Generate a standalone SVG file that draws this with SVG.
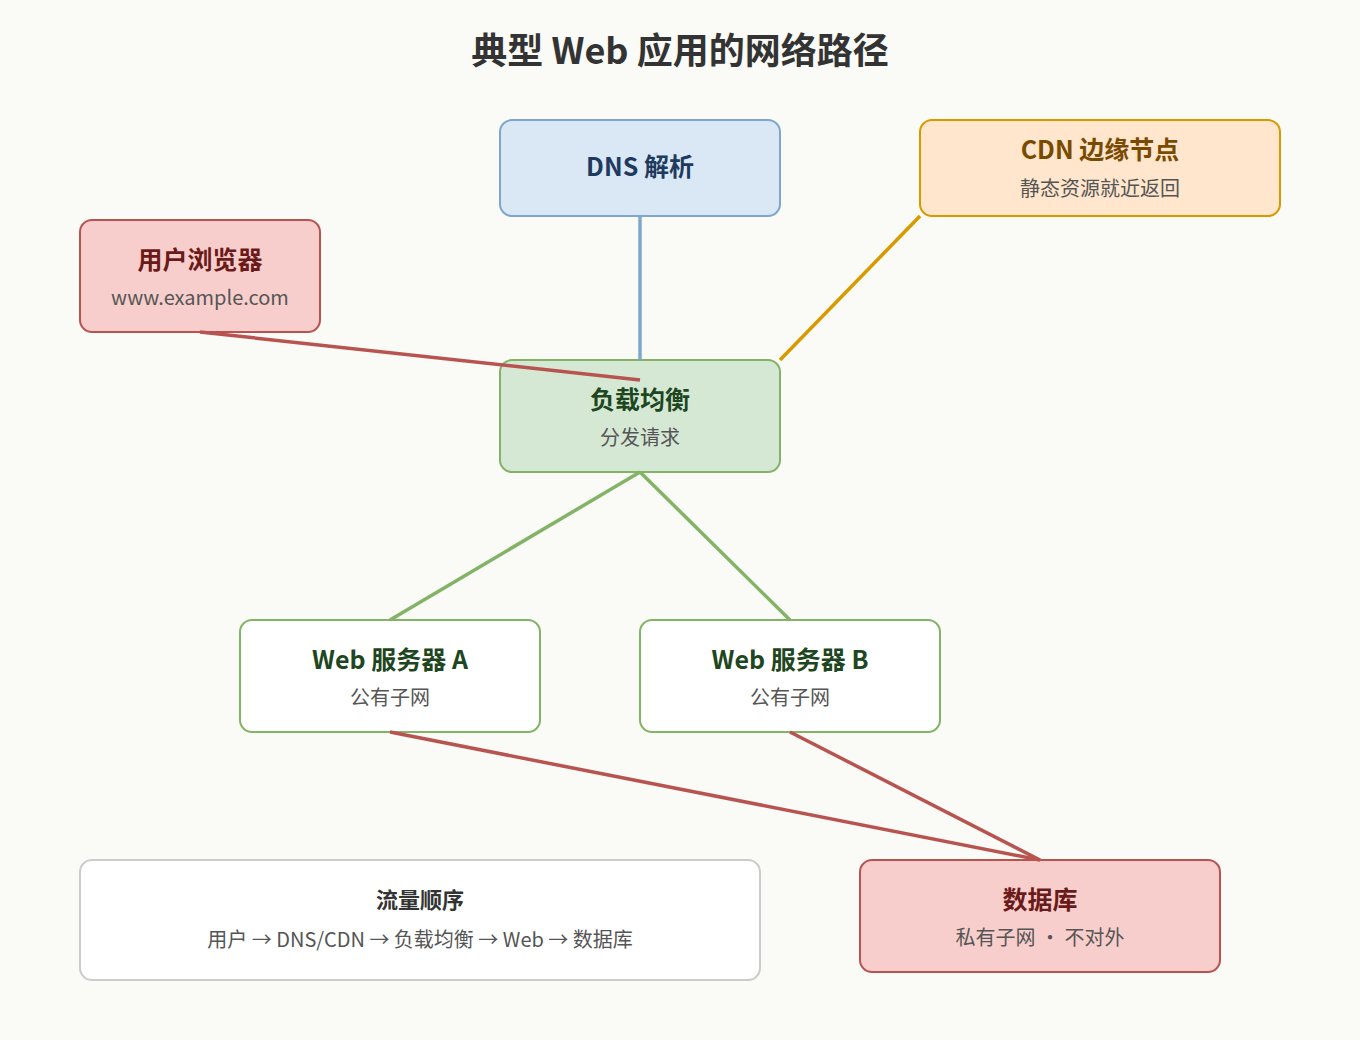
<svg xmlns="http://www.w3.org/2000/svg" width="1360" height="1040" viewBox="0 0 1360 1040">
<style>
text{font-family:"Noto Sans CJK SC","Noto Sans",sans-serif;text-anchor:middle}
.t{font-size:25px;font-weight:bold}
.s{font-size:20px;fill:#555}
.c{fill:none;stroke-width:3.5}
</style>
<rect width="1360" height="1040" fill="#fafaf6"/>
<text x="680" y="64" font-size="36" font-weight="bold" fill="#333">典型 Web 应用的网络路径</text>
<g id="dns"><rect x="500" y="120" width="280" height="96" rx="12" fill="#dae8f6" stroke="#7fa6cc" stroke-width="2"/><text class="t" x="640" y="176" fill="#1f3a5f">DNS 解析</text></g>
<g id="cdn"><rect x="920" y="120" width="360" height="96" rx="12" fill="#ffe6cc" stroke="#d79b00" stroke-width="2"/><text class="t" x="1100" y="159" fill="#7a4a00">CDN 边缘节点</text><text class="s" x="1100" y="196">静态资源就近返回</text></g>
<g id="browser"><rect x="80" y="220" width="240" height="112" rx="12" fill="#f8cecc" stroke="#b85450" stroke-width="2"/><text class="t" x="200" y="269" fill="#6b1a1a">用户浏览器</text><text class="s" x="200" y="305">www.example.com</text></g>
<g id="lb"><rect x="500" y="360" width="280" height="112" rx="12" fill="#d5e8d4" stroke="#82b366" stroke-width="2"/><text class="t" x="640" y="409" fill="#1e4620">负载均衡</text><text class="s" x="640" y="445">分发请求</text></g>
<g id="webA"><rect x="240" y="620" width="300" height="112" rx="12" fill="#fff" stroke="#82b366" stroke-width="2"/><text class="t" x="390" y="669" fill="#1e4620">Web 服务器 A</text><text class="s" x="390" y="705">公有子网</text></g>
<g id="webB"><rect x="640" y="620" width="300" height="112" rx="12" fill="#fff" stroke="#82b366" stroke-width="2"/><text class="t" x="790" y="669" fill="#1e4620">Web 服务器 B</text><text class="s" x="790" y="705">公有子网</text></g>
<g id="db"><rect x="860" y="860" width="360" height="112" rx="12" fill="#f8cecc" stroke="#b85450" stroke-width="2"/><text class="t" x="1040" y="909" fill="#6b1a1a">数据库</text><text class="s" x="1040" y="945">私有子网 · 不对外</text></g>
<g id="legend"><rect x="80" y="860" width="680" height="120" rx="12" fill="#fff" stroke="#ccc" stroke-width="2"/><text x="420" y="908" font-size="22" font-weight="bold" fill="#333">流量顺序</text><text class="s" x="420" y="947" font-size="22">用户 → DNS/CDN → 负载均衡 → Web → 数据库</text></g>
<g id="connectors">
<line class="c" x1="640" y1="216" x2="640" y2="360" stroke="#7fa6cc"/>
<line class="c" x1="920" y1="216" x2="780" y2="360" stroke="#d79b00"/>
<line class="c" x1="200" y1="332" x2="640" y2="380" stroke="#b85450"/>
<line class="c" x1="640" y1="472" x2="390" y2="620" stroke="#82b366"/>
<line class="c" x1="640" y1="472" x2="790" y2="620" stroke="#82b366"/>
<line class="c" x1="390" y1="732" x2="1040" y2="860" stroke="#b85450"/>
<line class="c" x1="790" y1="732" x2="1040" y2="860" stroke="#b85450"/>
</g>
</svg>
